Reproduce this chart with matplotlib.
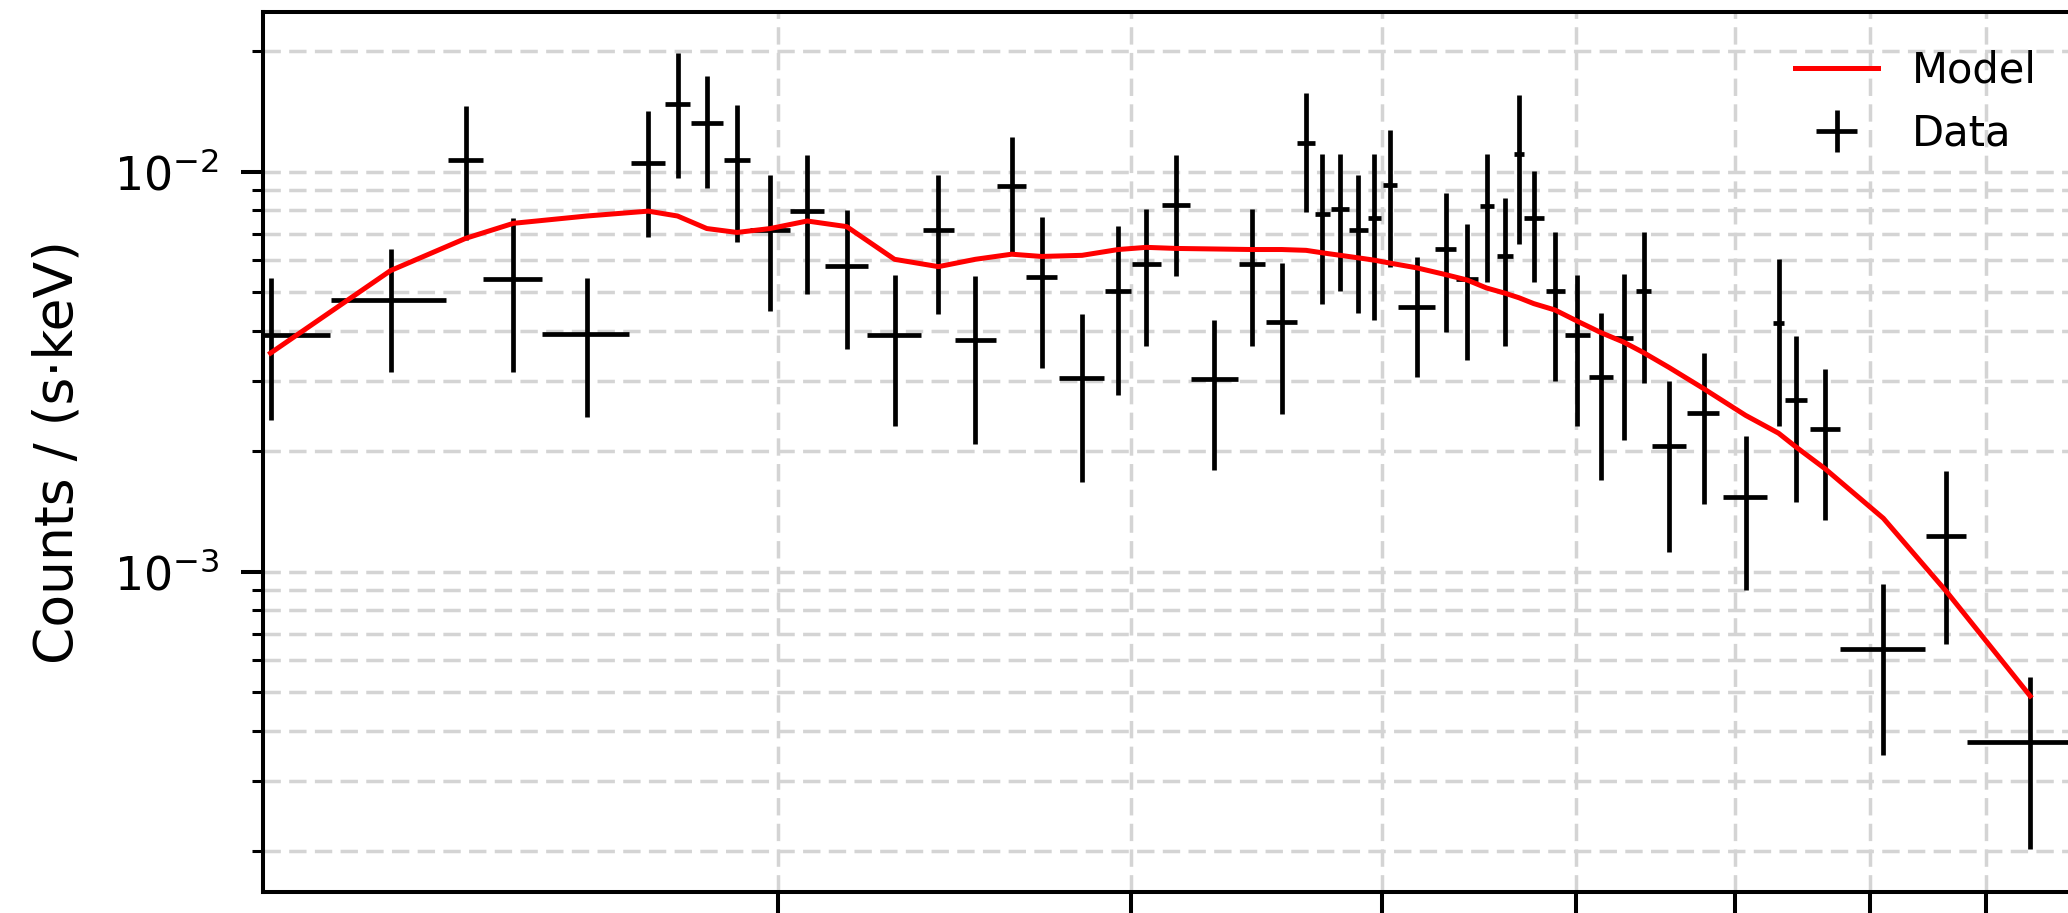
import matplotlib
matplotlib.use("Agg")
import matplotlib.pyplot as plt
from matplotlib.ticker import FixedLocator, NullLocator, NullFormatter, ScalarFormatter

# Binned spectrum: bin centre (keV), half bin width (keV), count rate and 1-sigma error
energy = [1.117, 1.282, 1.398, 1.476, 1.606, 1.723, 1.782, 1.843, 1.908, 1.982,
          2.068, 2.164, 2.286, 2.404, 2.508, 2.615, 2.706, 2.835, 2.955, 3.052,
          3.158, 3.300, 3.445, 3.565, 3.666, 3.735, 3.813, 3.893, 3.965, 4.036,
          4.163, 4.303, 4.411, 4.510, 4.606, 4.681, 4.761, 4.879, 5.005, 5.143,
          5.278, 5.400, 5.561, 5.785, 6.071, 6.305, 6.433, 6.650, 7.111, 7.641,
          8.416]
energy_halfwidth = [0.079, 0.085, 0.028, 0.050, 0.080, 0.034, 0.025, 0.034, 0.028, 0.045,
                    0.040, 0.053, 0.070, 0.043, 0.059, 0.043, 0.048, 0.073, 0.044, 0.050,
                    0.049, 0.089, 0.051, 0.062, 0.036, 0.032, 0.040, 0.041, 0.029, 0.033,
                    0.087, 0.052, 0.057, 0.036, 0.042, 0.027, 0.055, 0.053, 0.072, 0.072,
                    0.058, 0.049, 0.110, 0.106, 0.153, 0.040, 0.083, 0.114, 0.347, 0.175,
                    0.590]
rate = [3.90e-3, 4.79e-3, 1.069e-2, 5.40e-3, 3.93e-3, 1.051e-2, 1.475e-2, 1.321e-2, 1.069e-2, 7.16e-3,
        7.99e-3, 5.81e-3, 3.91e-3, 7.13e-3, 3.79e-3, 9.23e-3, 5.46e-3, 3.05e-3, 5.04e-3, 5.87e-3,
        8.25e-3, 3.03e-3, 5.87e-3, 4.20e-3, 1.183e-2, 7.86e-3, 8.05e-3, 7.13e-3, 7.66e-3, 9.25e-3,
        4.59e-3, 6.41e-3, 5.38e-3, 8.19e-3, 6.14e-3, 1.108e-2, 7.66e-3, 5.02e-3, 3.91e-3, 3.07e-3,
        3.84e-3, 5.02e-3, 2.06e-3, 2.50e-3, 1.54e-3, 4.18e-3, 2.69e-3, 2.28e-3, 6.41e-4, 1.225e-3,
        3.75e-4]
rate_err = [1.51e-3, 1.63e-3, 3.93e-3, 2.25e-3, 1.50e-3, 3.66e-3, 5.10e-3, 4.10e-3, 4.00e-3, 2.68e-3,
            3.04e-3, 2.21e-3, 1.60e-3, 2.71e-3, 1.70e-3, 2.98e-3, 2.23e-3, 1.37e-3, 2.28e-3, 2.20e-3,
            2.75e-3, 1.23e-3, 2.20e-3, 1.72e-3, 3.90e-3, 3.20e-3, 3.03e-3, 2.69e-3, 3.40e-3, 3.47e-3,
            1.53e-3, 2.43e-3, 2.00e-3, 2.88e-3, 2.47e-3, 4.50e-3, 2.37e-3, 2.03e-3, 1.60e-3, 1.37e-3,
            1.70e-3, 2.05e-3, 0.94e-3, 1.02e-3, 0.64e-3, 1.87e-3, 1.20e-3, 0.93e-3, 2.93e-4, 5.65e-4,
            1.72e-4]
# Folded model evaluated at the bin centres
model_rate = [3.52e-3, 5.66e-3, 6.82e-3, 7.43e-3, 7.75e-3, 7.97e-3, 7.75e-3, 7.21e-3, 7.05e-3, 7.21e-3,
              7.53e-3, 7.29e-3, 6.04e-3, 5.79e-3, 6.04e-3, 6.22e-3, 6.14e-3, 6.18e-3, 6.39e-3, 6.47e-3,
              6.43e-3, 6.41e-3, 6.39e-3, 6.39e-3, 6.36e-3, 6.27e-3, 6.18e-3, 6.09e-3, 6.01e-3, 5.91e-3,
              5.75e-3, 5.53e-3, 5.36e-3, 5.12e-3, 4.97e-3, 4.84e-3, 4.68e-3, 4.51e-3, 4.23e-3, 3.96e-3,
              3.75e-3, 3.53e-3, 3.24e-3, 2.87e-3, 2.46e-3, 2.22e-3, 2.05e-3, 1.81e-3, 1.36e-3, 8.95e-4,
              4.89e-4]
energy_ticks = [2, 3, 4, 5, 6, 7, 8]

fig = plt.figure(figsize=(20.68, 9.13), dpi=100)
ax = fig.add_axes([0.1274, 0.0233, 0.8755, 0.9635])

ax.plot(energy, model_rate, color="red", lw=3.6, label="Model", zorder=3)
ax.errorbar(energy, rate, xerr=energy_halfwidth, yerr=rate_err, fmt="none",
            ecolor="black", elinewidth=3.4, capsize=0, label="Data", zorder=2)

ax.set_xscale("log")
ax.set_yscale("log")
ax.set_xlim(1.108, 8.85)
ax.set_ylim(1.585e-4, 2.507e-2)

ax.xaxis.set_major_locator(FixedLocator(energy_ticks))
ax.xaxis.set_major_formatter(ScalarFormatter())
ax.xaxis.set_minor_locator(NullLocator())
ax.xaxis.set_minor_formatter(NullFormatter())

ax.tick_params(which="major", length=15.8, width=2.9, labelsize=33, pad=16)
ax.tick_params(which="minor", length=7.9, width=2.2)
for sp in ax.spines.values():
    sp.set_linewidth(2.9)

ax.set_axisbelow(True)
ax.grid(True, which="both", color="#d4d4d4", lw=2.5, linestyle=(0, (5.0, 2.4)))

ax.set_ylabel("Counts / (s·keV)", fontsize=38.5, labelpad=22)
ax.legend(loc="upper right", frameon=False, fontsize=30)

fig.savefig("out.png", dpi=100)
